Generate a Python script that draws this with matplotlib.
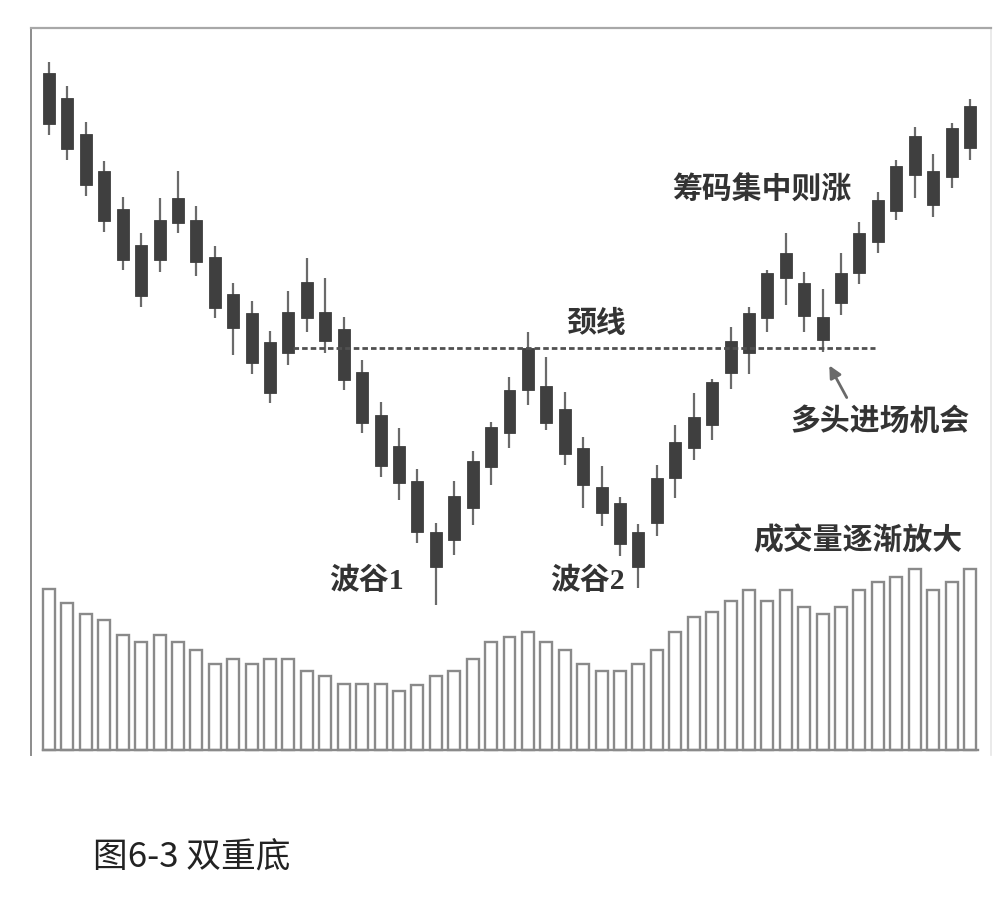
import numpy as np
import matplotlib
matplotlib.use('Agg')
import matplotlib.pyplot as plt

plt.rcParams['font.family'] = ['Noto Sans CJK SC', 'DejaVu Sans']

# K-line data (price units), one candle per day
opens = [62.7, 60.2, 56.6, 52.9, 49.1, 45.5, 44.0, 47.7, 48.0, 44.3,
         40.6, 38.7, 35.8, 34.7, 38.2, 38.8, 37.1, 32.8, 28.5, 25.4,
         21.9, 16.8, 16.0, 19.2, 23.3, 26.7, 31.0, 31.4, 29.1, 25.2,
         21.3, 19.7, 16.8, 17.7, 22.2, 25.2, 27.5, 32.7, 34.7, 38.2,
         42.2, 41.7, 38.3, 39.7, 42.7, 45.8, 48.9, 52.5, 52.9, 52.3,
         55.2]
closes = [57.6, 55.1, 51.5, 47.9, 44.0, 40.4, 48.0, 50.2, 43.8, 39.2,
          37.2, 33.7, 30.7, 38.8, 41.8, 35.9, 32.0, 27.7, 23.4, 21.7,
          16.8, 13.3, 20.4, 23.9, 27.3, 31.0, 35.2, 27.7, 24.6, 21.5,
          18.7, 15.6, 13.3, 22.2, 25.8, 28.3, 31.8, 35.9, 38.7, 42.7,
          44.7, 38.4, 36.0, 42.7, 46.7, 50.0, 53.4, 56.4, 49.5, 57.2,
          59.4]
highs = [63.8, 61.4, 57.8, 53.9, 50.3, 46.7, 50.2, 52.9, 49.4, 45.4,
         41.7, 39.9, 36.9, 40.9, 44.2, 42.2, 38.3, 34.0, 29.8, 27.2,
         23.1, 17.7, 21.9, 24.9, 27.8, 32.3, 36.8, 34.3, 30.8, 26.3,
         23.4, 20.3, 17.6, 23.5, 27.5, 30.7, 32.1, 37.3, 39.3, 43.0,
         46.7, 42.8, 41.1, 44.7, 47.8, 50.8, 54.0, 57.3, 54.6, 57.7,
         60.1]
lows = [56.5, 54.0, 50.4, 46.8, 43.0, 39.3, 42.8, 46.7, 42.4, 38.2,
        34.5, 32.6, 29.7, 33.5, 36.8, 34.7, 31.0, 26.7, 22.3, 20.0,
        15.7, 9.5, 14.5, 17.5, 21.5, 25.2, 29.5, 27.0, 23.5, 19.2,
        17.4, 14.4, 11.2, 16.4, 20.2, 24.0, 26.0, 31.1, 32.6, 36.8,
        39.5, 36.8, 34.8, 38.5, 41.6, 44.7, 48.0, 50.2, 48.3, 51.2,
        54.0]
volumes = [161, 147, 136, 130, 115, 108, 115, 108, 100, 86,
           91, 86, 91, 91, 79, 74, 66, 66, 66, 59,
           65, 74, 79, 91, 108, 113, 118, 108, 100, 86,
           79, 79, 86, 100, 118, 133, 138, 149, 160, 149,
           160, 143, 136, 143, 160, 168, 173, 181, 160, 168,
           181]
neckline = 35.2
neck_start, neck_end = 13.25, 44.85

x = np.arange(len(opens))
o = np.array(opens)
c = np.array(closes)

fig = plt.figure(figsize=(10.06, 9.0), dpi=100)

# price panel (also draws the outer frame)
ax = fig.add_axes([31 / 1006, 1 - 755 / 900, 960 / 1006, 727 / 900])
ax.set_xlim(-0.977, 51.14)
ax.set_ylim(-5.5, 67.2)
ax.set_xticks([])
ax.set_yticks([])
ax.spines['bottom'].set_visible(False)
ax.spines['top'].set_color('#a8a8a8')
ax.spines['top'].set_linewidth(1.6)
ax.spines['left'].set_color('#8c8c8c')
ax.spines['left'].set_linewidth(1.4)
ax.spines['right'].set_color('#e6e6e6')
ax.spines['right'].set_linewidth(1.2)

ax.vlines(x, lows, highs, color='#6a6a6a', linewidth=1.6, zorder=2)
ax.bar(x, np.abs(c - o), bottom=np.minimum(o, c), width=0.65,
       color='#3f3f3f', edgecolor='#3f3f3f', linewidth=0.6, zorder=3)

# neckline
ax.plot([neck_start, neck_end], [neckline, neckline], color='#505050',
        linewidth=2.0, dashes=(2.0, 1.1), zorder=4)

txt = dict(color='#333333', fontsize=21.5, fontweight='bold', ha='center', va='center')
ax.text(38.7, 51.0, '筹码集中则涨', **txt)
ax.text(29.7, neckline + 2.5, '颈线', **txt)
ax.text(45.1, 27.9, '多头进场机会', **txt)
ax.text(43.9, 16.0, '成交量逐渐放大', **txt)
ax.text(17.26, 11.9, '波谷1', family=['Liberation Serif', 'Noto Sans CJK SC'],
        color='#333333', fontsize=21.5, fontweight='bold', ha='center', va='center')
ax.text(29.26, 11.9, '波谷2', family=['Liberation Serif', 'Noto Sans CJK SC'],
        color='#333333', fontsize=21.5, fontweight='bold', ha='center', va='center')
ax.annotate('', xy=(42.29, neckline - 1.5), xytext=(43.38, 30.0),
            arrowprops=dict(arrowstyle='-|>', color='#6a6a6a', lw=2.0,
                            mutation_scale=18))

# volume panel
axv = fig.add_axes([31 / 1006, 1 - 750 / 900, 960 / 1006, 190 / 900])
axv.set_xlim(-0.977, 51.14)
axv.set_ylim(0, 190)
axv.patch.set_alpha(0)
axv.set_xticks([])
axv.set_yticks([])
for s in axv.spines.values():
    s.set_visible(False)
axv.bar(x, volumes, width=0.65, facecolor='white', edgecolor='#8a8a8a',
        linewidth=1.7, clip_on=False)
axv.plot([-0.35, 50.45], [0, 0], color='#8a8a8a', linewidth=1.7, clip_on=False)

fig.text(93 / 1006, 1 - 858 / 900, '图6-3 双重底', fontsize=25,
         color='#222222', ha='left', va='center')

fig.savefig('out.png', dpi=100, facecolor='white')
